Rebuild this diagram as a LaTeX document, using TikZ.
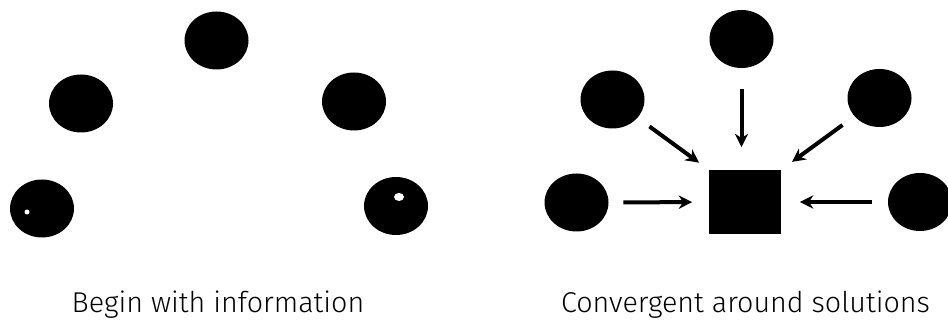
\documentclass[tikz,border=0pt]{standalone}
\usepackage{fontspec}
\setmainfont{Fira Sans}[UprightFont=* Light]
\usetikzlibrary{arrows.meta,shapes.geometric,calc}

\begin{document}
\begin{tikzpicture}[x=0.75pt,y=-0.75pt,>={Stealth[length=10pt,width=10pt]},
  dot/.style={ellipse,fill=black,inner sep=0pt,minimum width=48pt,minimum height=43.5pt},
  conv/.style={->,line width=3pt},
  caption/.style={anchor=base,font=\fontsize{21.5}{25}\selectfont,inner sep=0pt}]
\useasboundingbox (0,0) rectangle (948,323);
% begin with information
\node[dot] (lt) at (216.5,40.5) {};
\node[dot] (lml) at (81,103.5) {};
\node[dot] (lmr) at (354,101.5) {};
\node[dot] (lbl) at (42,208.5) {};
\node[dot] (lbr) at (396,206) {};
\fill[white] (27,212) ellipse (2.5 and 2.5);
\fill[white] (399,197) ellipse (5 and 4);
\node[caption] (capl) at (218,313) {Begin with information};
% convergent around solutions
\node[dot] (rt) at (741.5,39) {};
\node[dot] (rml) at (612.5,99.5) {};
\node[dot] (rmr) at (879.5,98) {};
\node[dot] (rbl) at (576.5,202.5) {};
\node[dot] (rbr) at (920,202) {};
\node[rectangle,fill=black,inner sep=0pt,minimum width=54pt,minimum height=48pt] (sol) at (745,202) {};
\draw[conv,shorten <=15.5pt,shorten >=17pt] (rt) -- (rt |- sol.north);
\draw[conv,shorten <=11pt,shorten >=9pt] (rml) -- (sol.north west);
\draw[conv,shorten <=11pt,shorten >=10pt] (rmr) -- (sol.north east);
\draw[conv,shorten <=11pt,shorten >=12.5pt] (rbl) -- (sol);
\draw[conv,shorten <=12pt,shorten >=14pt] (rbr) -- (sol);
\node[caption] (capr) at (745.5,313) {Convergent around solutions};
\end{tikzpicture}
\end{document}
